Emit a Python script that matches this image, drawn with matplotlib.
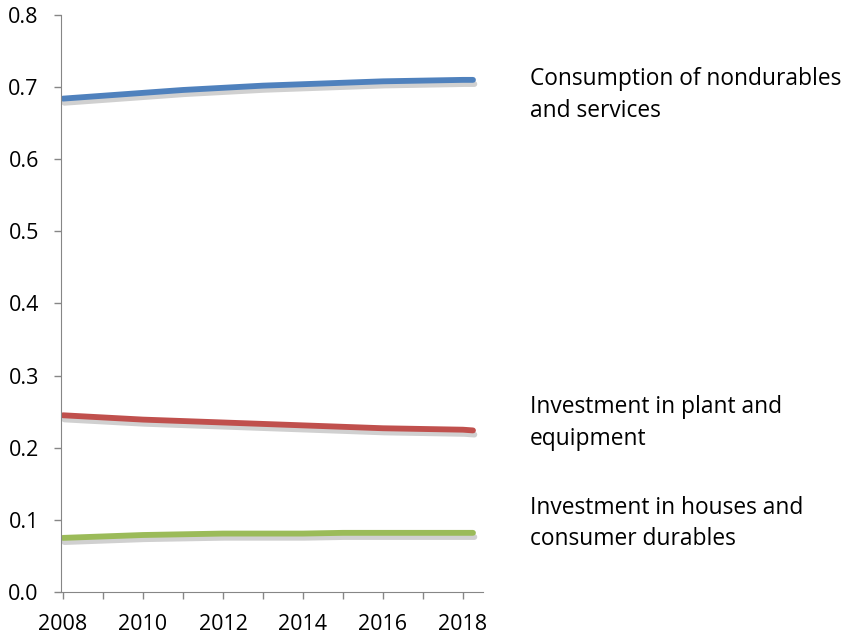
import matplotlib.pyplot as plt
import matplotlib.patheffects as pe
from matplotlib.ticker import MultipleLocator, FormatStrFormatter

plt.rcParams['font.family'] = ['Open Sans', 'DejaVu Sans']

years = [2008, 2009, 2010, 2011, 2012, 2013, 2014, 2015, 2016, 2017, 2018, 2018.25]
consumption = [0.684, 0.688, 0.692, 0.696, 0.699, 0.702, 0.704, 0.706, 0.708, 0.709, 0.710, 0.710]
plant = [0.245, 0.242, 0.239, 0.237, 0.235, 0.233, 0.231, 0.229, 0.227, 0.226, 0.225, 0.224]
houses = [0.075, 0.077, 0.079, 0.080, 0.081, 0.081, 0.081, 0.082, 0.082, 0.082, 0.082, 0.082]

labels = ['Consumption of nondurables\nand services',
          'Investment in plant and\nequipment',
          'Investment in houses and\nconsumer durables']
colors = ['#4F81BD', '#C0504D', '#9BBB59']
label_y = [0.689, 0.234, 0.095]

fig = plt.figure(figsize=(8.46, 6.42), dpi=100)
ax = fig.add_axes([0.0721, 0.0779, 0.4988, 0.8988])

shadow = [pe.SimpleLineShadow(offset=(1, -3), shadow_color='#8a8a8a', alpha=0.4),
          pe.Normal()]
for vals, c in zip([consumption, plant, houses], colors):
    ax.plot(years, vals, color=c, lw=4.2, solid_capstyle='round', path_effects=shadow)

for txt, y in zip(labels, label_y):
    ax.text(1.111, y, txt, transform=ax.get_yaxis_transform(), fontsize=16.4,
            va='center', ha='left', linespacing=1.42, clip_on=False)

ax.set_xlim(2007.95, 2018.5)
ax.set_ylim(0, 0.8)
ax.xaxis.set_major_locator(MultipleLocator(2))
ax.xaxis.set_minor_locator(MultipleLocator(1))
ax.yaxis.set_major_locator(MultipleLocator(0.1))
ax.yaxis.set_major_formatter(FormatStrFormatter('%.1f'))

for s in ['top', 'right']:
    ax.spines[s].set_visible(False)
for s in ['left', 'bottom']:
    ax.spines[s].set_color('#868686')
ax.tick_params(axis='both', which='both', color='#868686', length=5, width=1, labelsize=15.5)
ax.tick_params(axis='y', pad=11)
ax.tick_params(axis='x', pad=11)

fig.savefig('out.png', dpi=100)
